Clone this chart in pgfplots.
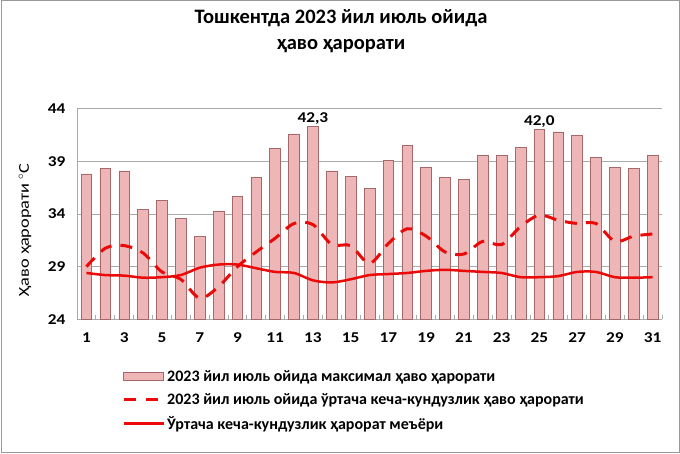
\documentclass[border=0pt]{standalone}
\usepackage{pgfplots}
\pgfplotsset{compat=1.18}
\usepackage{fontspec}
\setmainfont{Carlito}
\newfontfamily\wide{Carlito}[FakeStretch=1.15]
\newfontfamily\wider{Carlito}[FakeStretch=1.22]
\definecolor{barfill}{RGB}{238,182,182}
\definecolor{baredge}{RGB}{165,105,105}
\definecolor{linered}{RGB}{235,10,10}
\definecolor{gridgray}{RGB}{170,170,170}
\begin{document}
\begin{tikzpicture}[x=1pt,y=1pt]
\useasboundingbox (0,0) rectangle (680,453);
\draw[gray!80, line width=1pt] (1,1) rectangle (679,452);
\node[font=\fontsize{20.5}{26}\selectfont\bfseries, align=center] at (341,421.5) {Тошкентда 2023 йил июль ойида\\ҳаво ҳарорати};
\node[rotate=90, font=\wider\fontsize{15}{18}\selectfont] at (25,223) {Ҳаво ҳарорати $^{\circ}$С};
\begin{axis}[
  at={(77pt,133.7pt)}, anchor=south west,
  scale only axis, width=585pt, height=210.6pt,
  xmin=0.5, xmax=31.5, ymin=24, ymax=44,
  xtick={1,3,...,31}, ytick={24,29,34,39,44},
  minor xtick={0.5,1.5,...,31.5},
  major tick length=0pt, minor tick length=4pt,
  tick style={gridgray, line width=0.8pt},
  tick align=inside,
  axis x line*=bottom, axis y line*=left,
  axis line style={gridgray, line width=0.8pt, -},
  ymajorgrids, grid style={gridgray, line width=0.8pt},
  ticklabel style={font=\wide\fontsize{15}{18}\selectfont\bfseries},
  /pgf/number format/assume math mode=true,
  xticklabel style={yshift=-10pt},
  yticklabel style={xshift=-8pt},
  legend style={draw=none, fill=none, at={(0.077,-0.232)}, anchor=north west,
    font=\fontsize{16}{19}\selectfont\bfseries, row sep=6.5pt, inner sep=0pt},
  legend cell align=left,
]
\addplot[ybar, bar width=10.7pt, fill=barfill, draw=baredge, line width=0.6pt,
  legend image code/.code={\draw[fill=barfill, draw=baredge, line width=0.6pt] (0pt,-4pt) rectangle (40pt,4pt);}]
coordinates {
(1,37.8) (2,38.3) (3,38.1) (4,34.4) (5,35.3) (6,33.6) (7,31.9) (8,34.3)
(9,35.7) (10,37.5) (11,40.2) (12,41.6) (13,42.3) (14,38.1) (15,37.6) (16,36.4)
(17,39.1) (18,40.5) (19,38.4) (20,37.5) (21,37.3) (22,39.6) (23,39.6) (24,40.3)
(25,42.0) (26,41.8) (27,41.5) (28,39.4) (29,38.4) (30,38.3) (31,39.6)};
\addlegendentry{2023 йил июль ойида максимал ҳаво ҳарорати}
\addplot[smooth, no marks, linered, line width=3pt, dash pattern=on 12pt off 9pt,
  legend image code/.code={\draw[linered, line width=3pt, dash pattern=on 12pt off 10pt] (0pt,0pt) -- (40pt,0pt);}]
coordinates {
(1,29.0) (2,30.75) (3,31.0) (4,30.3) (5,28.5) (6,27.8) (7,26.0) (8,27.1)
(9,29.0) (10,30.4) (11,31.7) (12,33.1) (13,33.0) (14,31.1) (15,31.0) (16,29.3)
(17,31.2) (18,32.6) (19,31.9) (20,30.4) (21,30.2) (22,31.4) (23,31.1) (24,32.8)
(25,33.9) (26,33.4) (27,33.1) (28,33.1) (29,31.4) (30,31.9) (31,32.1)};
\addlegendentry{2023 йил июль ойида ўртача кеча-кундузлик ҳаво ҳарорати}
\addplot[smooth, no marks, linered, line width=2.5pt,
  legend image code/.code={\draw[linered, line width=2.5pt] (0pt,0pt) -- (40pt,0pt);}]
coordinates {
(1,28.4) (2,28.2) (3,28.15) (4,27.95) (5,28.0) (6,28.2) (7,28.9) (8,29.2)
(9,29.2) (10,28.85) (11,28.5) (12,28.4) (13,27.7) (14,27.5) (15,27.8) (16,28.2)
(17,28.3) (18,28.4) (19,28.6) (20,28.7) (21,28.6) (22,28.5) (23,28.4) (24,28.0)
(25,28.0) (26,28.1) (27,28.5) (28,28.5) (29,28.0) (30,27.95) (31,28.0)};
\addlegendentry{Ўртача кеча-кундузлик ҳарорат меъёри}
\node[above, font=\wide\fontsize{15}{18}\selectfont\bfseries, inner sep=2pt] at (axis cs:13,42.3) {42,3};
\node[above, font=\wide\fontsize{15}{18}\selectfont\bfseries, inner sep=2pt] at (axis cs:25,42.0) {42,0};
\end{axis}
\end{tikzpicture}
\end{document}
